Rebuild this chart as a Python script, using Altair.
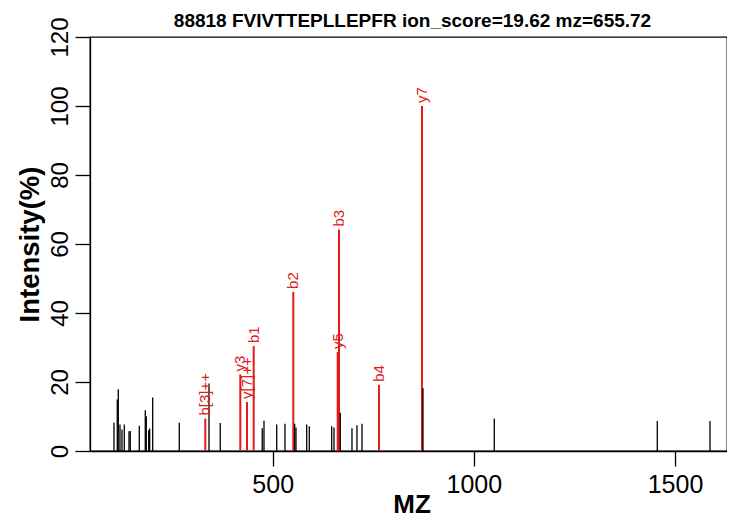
import altair as alt
import pandas as pd

# Unannotated peaks (black)
other_mz = [105.5, 113.7, 116.2, 120.4, 125.4, 131.1, 142.8, 146.0, 168.4, 183.3,
            185.8, 191.8, 194.3, 201.7, 267.8, 341.7, 369.7, 474.1, 478.4, 510.0,
            530.6, 554.7, 557.9, 584.5, 591.0, 646.7, 652.4, 668.0, 697.1, 709.5,
            722.0, 873.6, 1050.8, 1456.0, 1587.0]
other_int = [8.2, 14.9, 17.9, 7.7, 6.2, 7.7, 5.7, 5.8, 7.3, 11.8,
             10.1, 6.0, 6.5, 15.5, 8.2, 19.6, 8.1, 6.6, 8.8, 7.7,
             7.9, 7.9, 6.8, 7.7, 7.2, 7.2, 6.8, 11.1, 6.6, 7.5,
             7.9, 18.2, 9.4, 8.7, 8.7]

# Annotated fragment ions (red)
ion_labels = ["b[3]++", "y3", "y[7]++", "b1", "b2", "y5", "b3", "b4", "y7"]
ion_mz = [332.5, 419.5, 436.1, 452.8, 551.2, 661.6, 664.8, 764.2, 871.1]
ion_int = [9.4, 22.2, 14.2, 30.4, 46.1, 28.7, 64.2, 19.2, 100.0]

x_ticks = [500, 1000, 1500]
y_ticks = [0, 20, 40, 60, 80, 100, 120]

title_text = ["88818 FVIVTTEPLLEPFR ion_score=19.62 mz=655.72"]

RED = "#E31A1C"
FONT = "Liberation Sans"
W, H = 637, 414

ions = pd.DataFrame({"mz": ion_mz, "intensity": ion_int, "label": ion_labels})
others = pd.DataFrame({"mz": other_mz, "intensity": other_int})
title_df = pd.DataFrame({"t": title_text})

x_enc = alt.X(
    "mz:Q",
    scale=alt.Scale(domain=[45.9, 1629.3], nice=False, zero=False),
    axis=alt.Axis(
        values=x_ticks, format="d", title="MZ",
        labelFontSize=25, labelPadding=6, labelFlush=False, labelOverlap=False,
        tickSize=15, tickWidth=1.3, domainWidth=1.3,
        titleFontSize=26, titleFontWeight="bold",
        titleX=321.5, titleY=61, titleBaseline="alphabetic", titleAlign="center",
    ),
)
y_enc = alt.Y(
    "intensity:Q",
    scale=alt.Scale(domain=[0, 120], nice=False, zero=True),
    axis=alt.Axis(
        values=y_ticks, format="d", title="Intensity(%)",
        labelFontSize=24, labelAngle=270, labelAlign="center",
        labelBaseline="alphabetic", labelPadding=8, labelFlush=False, labelOverlap=False,
        tickSize=15, tickWidth=1.3, domainWidth=1.3,
        titleFontSize=27.5, titleFontWeight="bold", titleAngle=270,
        titleX=-52, titleY=207, titleAlign="center", titleBaseline="alphabetic",
    ),
)

red_rules = alt.Chart(ions).mark_rule(color=RED, strokeWidth=2).encode(
    x=x_enc, y=y_enc, y2=alt.datum(0)
)
black_rules = alt.Chart(others).mark_rule(color="black", strokeWidth=1.3).encode(
    x=x_enc, y=y_enc, y2=alt.datum(0)
)
labels = alt.Chart(ions).mark_text(
    angle=270, align="left", baseline="middle", dx=3,
    color=RED, fontSize=15, font=FONT,
).encode(x=x_enc, y=y_enc, text="label:N")

title_mark = alt.Chart(title_df).mark_text(
    align="center", baseline="alphabetic", fontSize=19, fontWeight="bold",
    font=FONT, color="black",
).encode(x=alt.value(322.5), y=alt.value(-10), text="t:N")

chart = (
    alt.layer(red_rules, black_rules, labels, title_mark)
    .properties(
        width=W,
        height=H,
        autosize=alt.AutoSizeParams(type="none"),
        padding={"left": 82, "top": 29, "right": 0, "bottom": 68},
    )
    .configure_view(stroke="black", strokeWidth=1.3)
    .configure_axis(
        grid=False, domainColor="black", tickColor="black",
        labelColor="black", titleColor="black",
        labelFont=FONT, titleFont=FONT,
    )
)

chart.save("out.html", embed_options={"renderer": "svg", "actions": False})
